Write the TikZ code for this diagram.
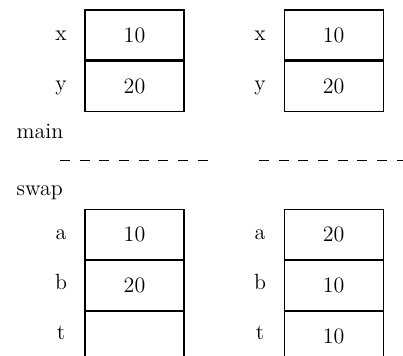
\documentclass[tikz,border=0pt]{standalone}
\usepackage{tikz}
\usetikzlibrary{positioning}

\begin{document}
\begin{tikzpicture}[x=0.5pt,y=-0.5pt,line width=.6pt,
  cell/.style={draw,minimum width=49.5pt,minimum height=25pt,inner sep=0pt,font=\fontsize{11}{13}\selectfont},
  varname/.style={inner sep=0pt,text height=1.5ex,text depth=.25ex,font=\fontsize{11}{13}\selectfont},
  framename/.style={anchor=west,inner sep=0pt,text height=1.5ex,text depth=.25ex,font=\fontsize{11}{13}\selectfont},
  divider/.style={line width=.5pt,dash pattern=on 5pt off 4.85pt}]
\path[use as bounding box] (0,0) rectangle (403,355);
% main, before the call
\node[cell] (mx1) at (134.5,35) {10};
\node[cell,below=0pt of mx1] (my1) {20};
\node[varname] (lx1) at (61,35) {x};
\node[varname] (ly1) at (61,85) {y};
% main, after the call
\node[cell] (mx2) at (333.7,35) {10};
\node[cell,below=0pt of mx2] (my2) {20};
\node[varname] (lx2) at (260,35) {x};
\node[varname] (ly2) at (260,85) {y};
\node[framename] (main) at (16,133) {main};
% frame boundary
\coordinate (d1s) at (60,160);
\coordinate (d1e) at (208,160);
\coordinate (d2s) at (259,160);
\coordinate (d2e) at (410,160);
\draw[divider] (d1s) -- (d1e);
\draw[divider] (d2s) -- (d2e);
\node[framename] (swap) at (16,190) {swap};
% swap, on entry
\node[cell] (sa1) at (134.5,234.3) {10};
\node[cell,below=0pt of sa1] (sb1) {20};
\node[cell,below=0pt of sb1] (st1) {};
\node[varname] (la1) at (61,234.3) {a};
\node[varname] (lb1) at (61,284) {b};
\node[varname] (lt1) at (61,334) {t};
% swap, before return
\node[cell] (sa2) at (333.7,234.3) {20};
\node[cell,below=0pt of sa2] (sb2) {10};
\node[cell,below=0pt of sb2] (st2) {10};
\node[varname] (la2) at (260,234.3) {a};
\node[varname] (lb2) at (260,284) {b};
\node[varname] (lt2) at (260,334) {t};
\end{tikzpicture}
\end{document}
